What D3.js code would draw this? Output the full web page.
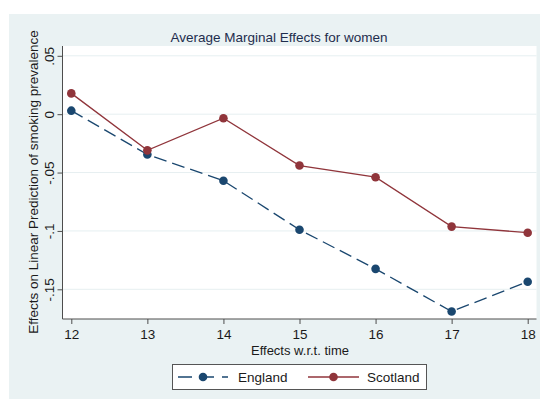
<!DOCTYPE html>
<html>
<head>
<meta charset="utf-8">
<script src="https://cdn.jsdelivr.net/npm/d3@7"></script>
<style>
  html, body { margin: 0; padding: 0; background: #ffffff; }
  svg { display: block; font-family: "Liberation Sans", Arial, sans-serif; }
</style>
</head>
<body>
<svg id="chart" width="540" height="401"></svg>
<script>
// Survey years on the x axis
const years = [12, 13, 14, 15, 16, 17, 18];
// Average marginal effects per year
const england = [0.003, -0.0345, -0.057, -0.099, -0.1325, -0.169, -0.1435];
const scotland = [0.0178, -0.031, -0.0035, -0.044, -0.054, -0.0963, -0.1015];
const yTicks = [0.05, 0, -0.05, -0.1, -0.15];
const yTickLabels = [".05", "0", "-.05", "-.1", "-.15"];
const seriesNames = ["England", "Scotland"];

const svg = d3.select("#chart");
const bg = "#eaf2f3";
const navy = "#1a476f";
const maroon = "#90353b";
const fs = 13.5;

// Outer graph region
svg.append("rect").attr("x", 9).attr("y", 14).attr("width", 531).attr("height", 385).attr("fill", bg);

const plot = { left: 62.5, top: 46, right: 536.5, bottom: 319 };
svg.append("rect")
  .attr("x", plot.left).attr("y", plot.top)
  .attr("width", plot.right - plot.left).attr("height", plot.bottom - plot.top)
  .attr("fill", "#ffffff");

const x = d3.scaleLinear().domain([12, 18]).range([71.3, 527.7]);
const y = d3.scaleLinear().domain([0.05, -0.15]).range([55.8, 289.3]);

// Horizontal grid lines
svg.append("g").selectAll("line").data(yTicks).join("line")
  .attr("x1", plot.left).attr("x2", plot.right)
  .attr("y1", d => y(d)).attr("y2", d => y(d))
  .attr("stroke", "#e6eff1").attr("stroke-width", 1);

// Y axis with rotated tick labels
const yAxis = svg.append("g").attr("transform", `translate(${plot.left},0)`)
  .call(d3.axisLeft(y).tickValues(yTicks).tickSize(5).tickSizeOuter(0)
    .tickFormat((d, i) => yTickLabels[i]));
yAxis.select(".domain").attr("d", `M0,${plot.top}V${plot.bottom}`).attr("stroke", "#4d4d4d");
yAxis.selectAll(".tick line").attr("stroke", "#4d4d4d");
yAxis.selectAll(".tick text")
  .attr("x", null).attr("dy", null)
  .attr("transform", "translate(-9,0) rotate(-90)")
  .attr("text-anchor", "middle")
  .attr("font-size", fs).attr("fill", "#1a1a1a")
  .attr("font-family", "Liberation Sans, Arial, sans-serif");

// X axis
const xAxis = svg.append("g").attr("transform", `translate(0,${plot.bottom})`)
  .call(d3.axisBottom(x).tickValues(years).tickSize(5).tickSizeOuter(0).tickFormat(d3.format("d")));
xAxis.select(".domain").attr("d", `M${plot.left},0H${plot.right}`).attr("stroke", "#4d4d4d");
xAxis.selectAll(".tick line").attr("stroke", "#4d4d4d");
xAxis.selectAll(".tick text")
  .attr("y", 20).attr("dy", null)
  .attr("font-size", fs).attr("fill", "#1a1a1a")
  .attr("font-family", "Liberation Sans, Arial, sans-serif");

// Titles
svg.append("text").attr("x", 279).attr("y", 42).attr("text-anchor", "middle")
  .attr("font-size", fs).attr("fill", "#1e2d4d").text("Average Marginal Effects for women");
svg.append("text").attr("x", 300).attr("y", 355).attr("text-anchor", "middle")
  .attr("font-size", 13).attr("fill", "#1a1a1a").text("Effects w.r.t. time");
svg.append("text").attr("transform", "translate(38,182) rotate(-90)").attr("text-anchor", "middle")
  .attr("font-size", fs).attr("fill", "#1a1a1a").text("Effects on Linear Prediction of smoking prevalence");

// Series
const series = [
  { name: seriesNames[0], values: england, color: navy, dash: "13,6" },
  { name: seriesNames[1], values: scotland, color: maroon, dash: null }
];
const line = d3.line().x((d, i) => x(years[i])).y(d => y(d));
series.forEach(s => {
  svg.append("path").datum(s.values).attr("d", line)
    .attr("fill", "none").attr("stroke", s.color).attr("stroke-width", 1.3)
    .attr("stroke-dasharray", s.dash);
  svg.append("g").selectAll("circle").data(s.values).join("circle")
    .attr("cx", (d, i) => x(years[i])).attr("cy", d => y(d))
    .attr("r", 4.3).attr("fill", s.color);
});

// Legend
const lg = svg.append("g");
lg.append("rect").attr("x", 172.5).attr("y", 364.5).attr("width", 254).attr("height", 25)
  .attr("fill", "#ffffff").attr("stroke", "#555555").attr("stroke-width", 1);
const legendItems = [
  { x0: 178, x1: 228, text: 238, s: series[0] },
  { x0: 308, x1: 359, text: 367, s: series[1] }
];
legendItems.forEach(it => {
  lg.append("line").attr("x1", it.x0).attr("x2", it.x1).attr("y1", 377).attr("y2", 377)
    .attr("stroke", it.s.color).attr("stroke-width", 1.3)
    .attr("stroke-dasharray", it.s.dash ? "14,8" : null);
  lg.append("circle").attr("cx", (it.x0 + it.x1) / 2).attr("cy", 377).attr("r", 4.3).attr("fill", it.s.color);
  lg.append("text").attr("x", it.text).attr("y", 381.5).attr("font-size", fs)
    .attr("fill", "#1a1a1a").text(it.s.name);
});
</script>
</body>
</html>
